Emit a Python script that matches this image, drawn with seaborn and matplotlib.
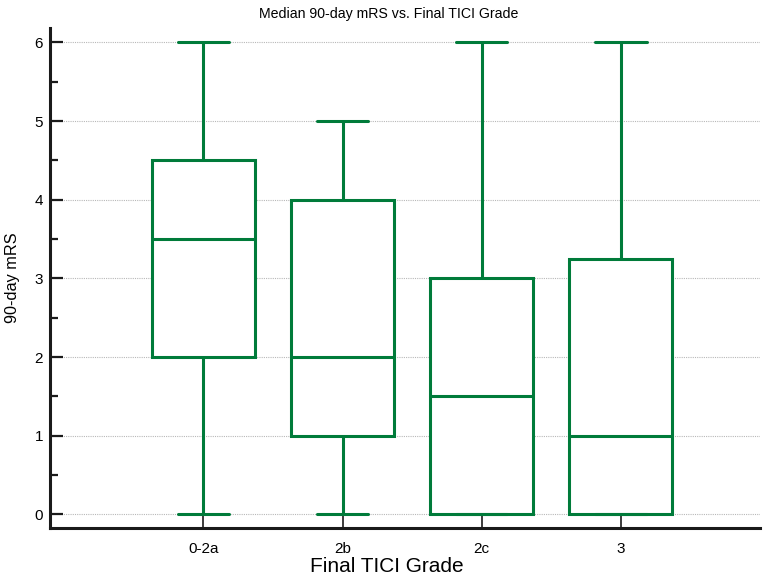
import numpy as np
import pandas as pd
import matplotlib
matplotlib.use("Agg")
import matplotlib.pyplot as plt
from matplotlib.ticker import MultipleLocator
import seaborn as sns

# 90-day mRS per final TICI grade (values chosen to reproduce the box summary)
grades = ["0-2a", "2b", "2c", "3"]
mrs_0_2a = [0, 2, 2, 3, 4, 4, 6, 6]
mrs_2b = [0, 1, 2, 4, 5]
mrs_2c = [0, 0, 0, 1, 2, 3, 3, 6]
mrs_3 = [0, 0, 0, 1, 1, 3, 4, 6]

df = pd.DataFrame({
    "grade": ["0-2a"] * len(mrs_0_2a) + ["2b"] * len(mrs_2b)
             + ["2c"] * len(mrs_2c) + ["3"] * len(mrs_3),
    "mrs": mrs_0_2a + mrs_2b + mrs_2c + mrs_3,
})

sns.set_style("ticks")
plt.rcParams["font.family"] = ["Liberation Sans", "DejaVu Sans"]
plt.rcParams["text.color"] = "black"
plt.rcParams["xtick.labelcolor"] = "black"
plt.rcParams["ytick.labelcolor"] = "black"

green = "#007B3A"

fig = plt.figure(figsize=(7.65, 5.79), dpi=100)
ax = fig.add_axes([50 / 765, 51 / 579, 710 / 765, 500 / 579])

sns.boxplot(data=df, x="grade", y="mrs", order=grades, whis=(0, 100),
            width=0.74, color="white", saturation=1, linecolor=green,
            linewidth=2.2, ax=ax)

ax.set_xlim(-1.102, 4.0)
ax.set_ylim(-0.174, 6.183)
ax.yaxis.set_major_locator(MultipleLocator(1))
ax.yaxis.set_minor_locator(MultipleLocator(0.5))
ax.set_axisbelow(True)
ax.grid(axis="y", which="major", linestyle=(0, (1, 1)), color="#b8b8b8", linewidth=0.8)

for side in ["top", "right"]:
    ax.spines[side].set_visible(False)
for side in ["left", "bottom"]:
    ax.spines[side].set_linewidth(2.2)
    ax.spines[side].set_color("#1a1a1a")

ax.tick_params(axis="y", which="major", direction="in", length=9.5, width=1.6,
               color="#1a1a1a", labelcolor="black", labelsize=11, pad=5)
ax.tick_params(axis="y", which="minor", direction="in", length=6, width=1.6, color="#1a1a1a")
ax.tick_params(axis="x", direction="in", length=10, width=1.2, color="#1a1a1a",
               labelcolor="black", labelsize=11, pad=10)

ax.set_xlabel("")
ax.set_ylabel("")
fig.text(389 / 765, 1 - 18 / 579, "Median 90-day mRS vs. Final TICI Grade",
         ha="center", va="baseline", fontsize=10.2, color="black")
fig.text(387 / 765, 7 / 579, "Final TICI Grade", ha="center", va="baseline",
         fontsize=15, color="black")
fig.text(12.5 / 765, 1 - 278 / 579, "90-day mRS", ha="center", va="center",
         rotation=90, fontsize=11.7, color="black")

fig.savefig("out.png", dpi=100)
